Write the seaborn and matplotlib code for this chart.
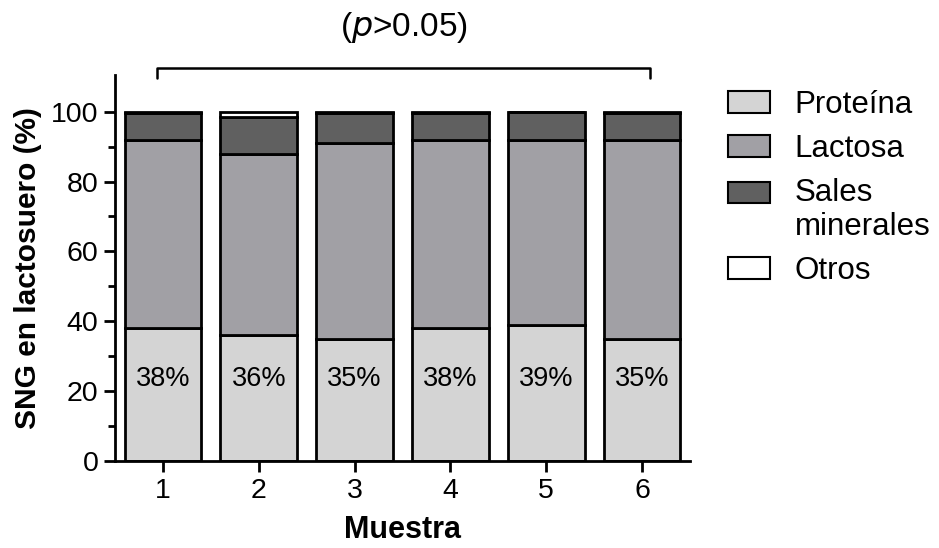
import numpy as np
import pandas as pd
import matplotlib
matplotlib.use("Agg")
import matplotlib.pyplot as plt
import seaborn as sns
from matplotlib.patches import Patch, Rectangle
from matplotlib.legend_handler import HandlerPatch

muestras = ["1", "2", "3", "4", "5", "6"]
proteina = [38, 36, 35, 38, 39, 35]
lactosa = [54, 52, 56, 54, 53, 57]
sales = [7.5, 10.5, 8.5, 7.5, 8, 7.5]
otros = [0.5, 1.5, 0.5, 0.5, 0, 0.5]
componentes = ["Proteína", "Lactosa", "Sales\nminerales", "Otros"]
colores = ["#d4d4d4", "#a1a0a5", "#606060", "#ffffff"]

sns.set_style("ticks", rc={"text.color": "black", "axes.labelcolor": "black",
                           "xtick.color": "black", "ytick.color": "black",
                           "axes.edgecolor": "black"})
plt.rcParams["font.family"] = ["Liberation Sans", "DejaVu Sans"]

fig = plt.figure(figsize=(9.39, 5.48), dpi=100)
ax = fig.add_axes([115 / 939, 87 / 548, 575 / 939, 386 / 548])

series = [proteina, lactosa, sales, otros]
base = np.zeros(len(muestras))
for vals, col in zip(series, colores):
    df = pd.DataFrame({"Muestra": muestras, "valor": vals})
    sns.barplot(data=df, x="Muestra", y="valor", bottom=base, color=col,
                saturation=1, width=0.8, edgecolor="black", linewidth=2,
                ax=ax, errorbar=None)
    base = base + np.array(vals)

for i, p in enumerate(proteina):
    ax.text(i, 23.5, f"{p}%", ha="center", va="center", fontsize=19.5)

ax.set_xlim(-0.5, 5.5)
ax.set_ylim(0, 110.5)
ax.set_yticks([0, 20, 40, 60, 80, 100])
ax.set_yticks([10, 30, 50, 70, 90], minor=True)
ax.tick_params(axis="both", which="major", labelsize=20.5, width=2, length=8,
               direction="out", pad=4)
ax.tick_params(axis="y", which="minor", width=2, length=5)
sns.despine(ax=ax)
for s in ["left", "bottom"]:
    ax.spines[s].set_linewidth(2)
ax.set_xlabel("Muestra", fontsize=22, fontweight="bold", labelpad=8)
ax.set_ylabel("SNG en lactosuero (%)", fontsize=21.5, fontweight="bold", labelpad=6)

# significance bracket over all samples
yb1, yb2 = 109.7, 112.6
ax.plot([-0.06, -0.06, 5.08, 5.08], [yb1, yb2, yb2, yb1], color="black", lw=1.8,
        clip_on=False)
ax.text(2.52, 124, r"($\it{p}$>0.05)", ha="center", va="center", fontsize=24,
        clip_on=False)


def top_line_patch(legend, orig_handle, xdescent, ydescent, width, height, fontsize):
    # align the swatch with the first line of a two-line label
    return Rectangle((-xdescent, -ydescent + 0.58 * fontsize), width, height)


handles = [Patch(facecolor=c, edgecolor="black", linewidth=1.5) for c in colores]
handler_map = {handles[2]: HandlerPatch(patch_func=top_line_patch)}
leg = fig.legend(handles, componentes, loc="upper left",
                 bbox_to_anchor=(700 / 939, 1 - 62 / 548),
                 frameon=False, fontsize=22.5, handlelength=1.33, handleheight=0.68,
                 handletextpad=0.8, labelspacing=0.44, handler_map=handler_map)

fig.savefig("out.png", dpi=100)
